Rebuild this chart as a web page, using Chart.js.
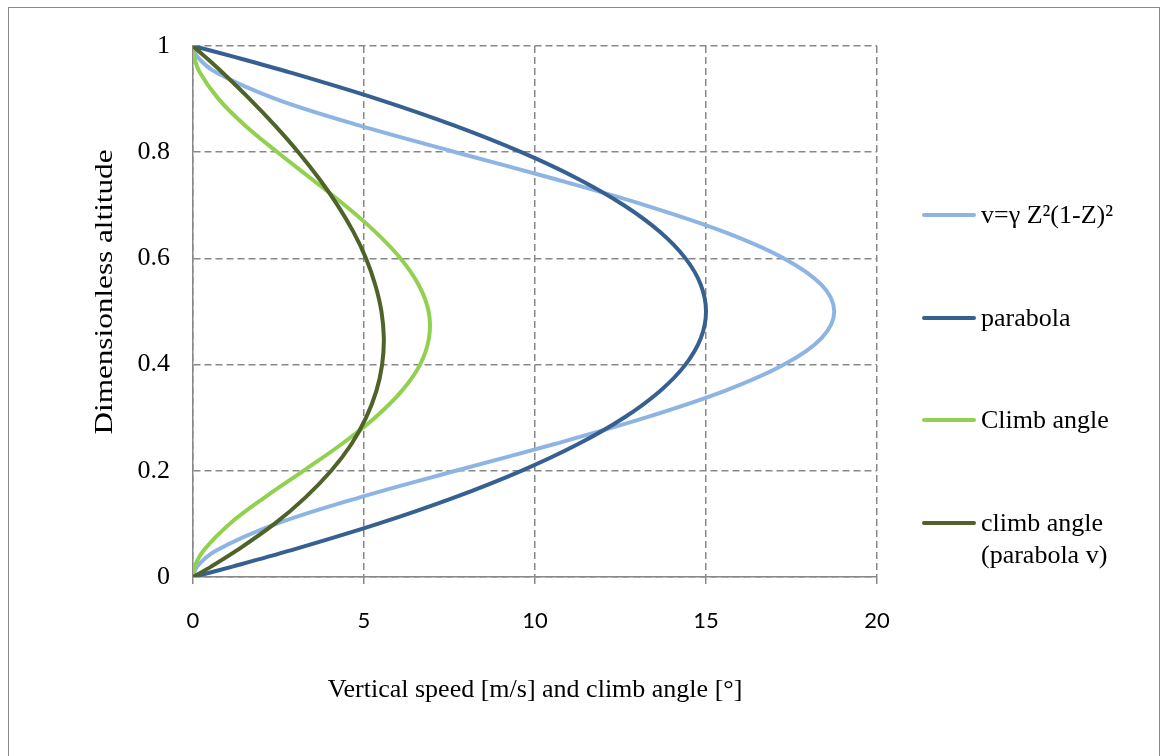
<!DOCTYPE html>
<html lang="en">
<head>
  <meta charset="UTF-8" />
  <title>Vertical speed and climb angle</title>
  <script src="https://cdn.jsdelivr.net/npm/chart.js"></script>
  <style>
    body {
      margin: 0;
      background: #fff;
      width: 1166px;
      height: 756px;
      overflow: hidden;
      position: relative;
      font-family: 'Liberation Serif', 'Times New Roman', serif;
      color: #000;
    }
    .marco {
      position: absolute;
      left: 8px;
      top: 7px;
      width: 1152px;
      height: 770px;
      border: 1px solid #8a8a8a;
      box-sizing: border-box;
    }
    #grafico {
      position: absolute;
      left: 0;
      top: 0;
    }
    .linea {
      position: absolute;
      left: 922px;
      width: 54px;
      height: 4px;
      border-radius: 2px;
    }
    .texto {
      position: absolute;
      left: 981px;
      font-size: 26px;
      line-height: 32px;
      white-space: nowrap;
    }
  </style>
</head>
<body>

<div class="marco"></div>
<canvas id="grafico" width="1166" height="756"></canvas>
<div id="leyenda"></div>

<script>
  // Dimensionless altitude Z (y values shared by every curve)
  const altitude = [0, 0.02, 0.05, 0.1, 0.15, 0.2, 0.25, 0.3, 0.35, 0.4, 0.45, 0.5,
                    0.55, 0.6, 0.65, 0.7, 0.75, 0.8, 0.85, 0.9, 0.95, 0.98, 1];

  // x values, one per altitude
  const speedQuartic = [0, 0.12, 0.68, 2.43, 4.88, 7.68, 10.55, 13.23, 15.53, 17.28, 18.38, 18.75,
                        18.38, 17.28, 15.53, 13.23, 10.55, 7.68, 4.88, 2.43, 0.68, 0.12, 0];
  const speedParabola = [0, 1.18, 2.85, 5.4, 7.65, 9.6, 11.25, 12.6, 13.65, 14.4, 14.85, 15,
                         14.85, 14.4, 13.65, 12.6, 11.25, 9.6, 7.65, 5.4, 2.85, 1.18, 0];
  const climbAngle = [0, 0.05, 0.31, 1.07, 2.1, 3.23, 4.34, 5.32, 6.1, 6.64, 6.9, 6.89,
                      6.6, 6.07, 5.33, 4.44, 3.46, 2.47, 1.53, 0.75, 0.2, 0.03, 0];
  const climbAngleParabola = [0, 0.54, 1.28, 2.38, 3.29, 4.04, 4.63, 5.06, 5.36, 5.53, 5.58, 5.51,
                              5.33, 5.06, 4.69, 4.23, 3.69, 3.08, 2.4, 1.66, 0.86, 0.35, 0];

  const seriesLabels = ['v=γ Z²(1-Z)²', 'parabola', 'Climb angle', 'climb angle\n(parabola v)'];
  const seriesColors = ['#8EB4E3', '#376092', '#92D050', '#4F6228'];
  const seriesValues = [speedQuartic, speedParabola, climbAngle, climbAngleParabola];

  const xTicks = [0, 5, 10, 15, 20];
  const yTicks = [0, 0.2, 0.4, 0.6, 0.8, 1];
  const xTitle = 'Vertical speed [m/s] and climb angle [°]';
  const yTitle = 'Dimensionless altitude';

  const gris = '#888888';

  const datasets = seriesValues.map((vals, i) => ({
    label: seriesLabels[i],
    data: vals.map((v, k) => ({ x: v, y: altitude[k] })),
    borderColor: seriesColors[i],
    backgroundColor: seriesColors[i],
    borderWidth: 4,
    pointRadius: 0,
    showLine: true,
    tension: 0.35,
    fill: false,
    order: seriesValues.length - i
  }));

  // y title, centred on the chart rather than on the plot area
  const tituloY = {
    id: 'tituloY',
    afterDraw(chart) {
      const ctx = chart.ctx;
      ctx.save();
      ctx.translate(105, 292);
      ctx.rotate(-Math.PI / 2);
      ctx.scale(1.2, 1);
      ctx.font = '26px "Liberation Serif"';
      ctx.fillStyle = '#000';
      ctx.textAlign = 'center';
      ctx.textBaseline = 'middle';
      ctx.fillText(yTitle, 0, 0);
      ctx.restore();
    }
  };

  new Chart(document.getElementById('grafico').getContext('2d'), {
    type: 'scatter',
    data: { datasets },
    options: {
      responsive: false,
      animation: false,
      layout: { padding: { left: 88, right: 289, top: 46, bottom: 50 } },
      plugins: {
        legend: { display: false },
        tooltip: { enabled: false }
      },
      scales: {
        x: {
          type: 'linear',
          min: xTicks[0],
          max: xTicks[xTicks.length - 1],
          afterFit: s => { s.height = 129; },
          afterBuildTicks: s => { s.ticks = xTicks.map(v => ({ value: v })); },
          grid: { color: gris, lineWidth: 1.5, tickLength: 7, tickColor: gris, tickBorderDash: [] },
          border: { display: true, color: gris, width: 1.5, dash: [7, 4] },
          ticks: {
            color: '#000',
            padding: 24,
            callback: v => String(v),
            font: { family: 'Lato', size: 22 }
          },
          title: {
            display: true,
            text: xTitle,
            color: '#000',
            padding: { top: 0, bottom: 0 },
            font: { family: 'Liberation Serif', size: 26 }
          }
        },
        y: {
          type: 'linear',
          min: yTicks[0],
          max: yTicks[yTicks.length - 1],
          afterFit: s => { s.width = 105; },
          afterBuildTicks: s => { s.ticks = yTicks.map(v => ({ value: v })); },
          grid: { color: gris, lineWidth: 1.5, drawTicks: false },
          border: { display: true, color: gris, width: 1.5, dash: [7, 4] },
          ticks: {
            color: '#000',
            padding: 23,
            callback: v => String(v),
            font: { family: 'Liberation Serif', size: 26 }
          }
        }
      }
    },
    plugins: [tituloY]
  });

  // legend on the right, built from the same series arrays
  const filas = [215, 318, 420, 523];
  const leyenda = document.getElementById('leyenda');
  seriesLabels.forEach((txt, i) => {
    const linea = document.createElement('div');
    linea.className = 'linea';
    linea.style.top = (filas[i] - 2) + 'px';
    linea.style.background = seriesColors[i];
    const texto = document.createElement('div');
    texto.className = 'texto';
    texto.style.top = (filas[i] - 16) + 'px';
    texto.innerHTML = txt.split('\n').join('<br>');
    leyenda.appendChild(linea);
    leyenda.appendChild(texto);
  });
</script>

</body>
</html>
